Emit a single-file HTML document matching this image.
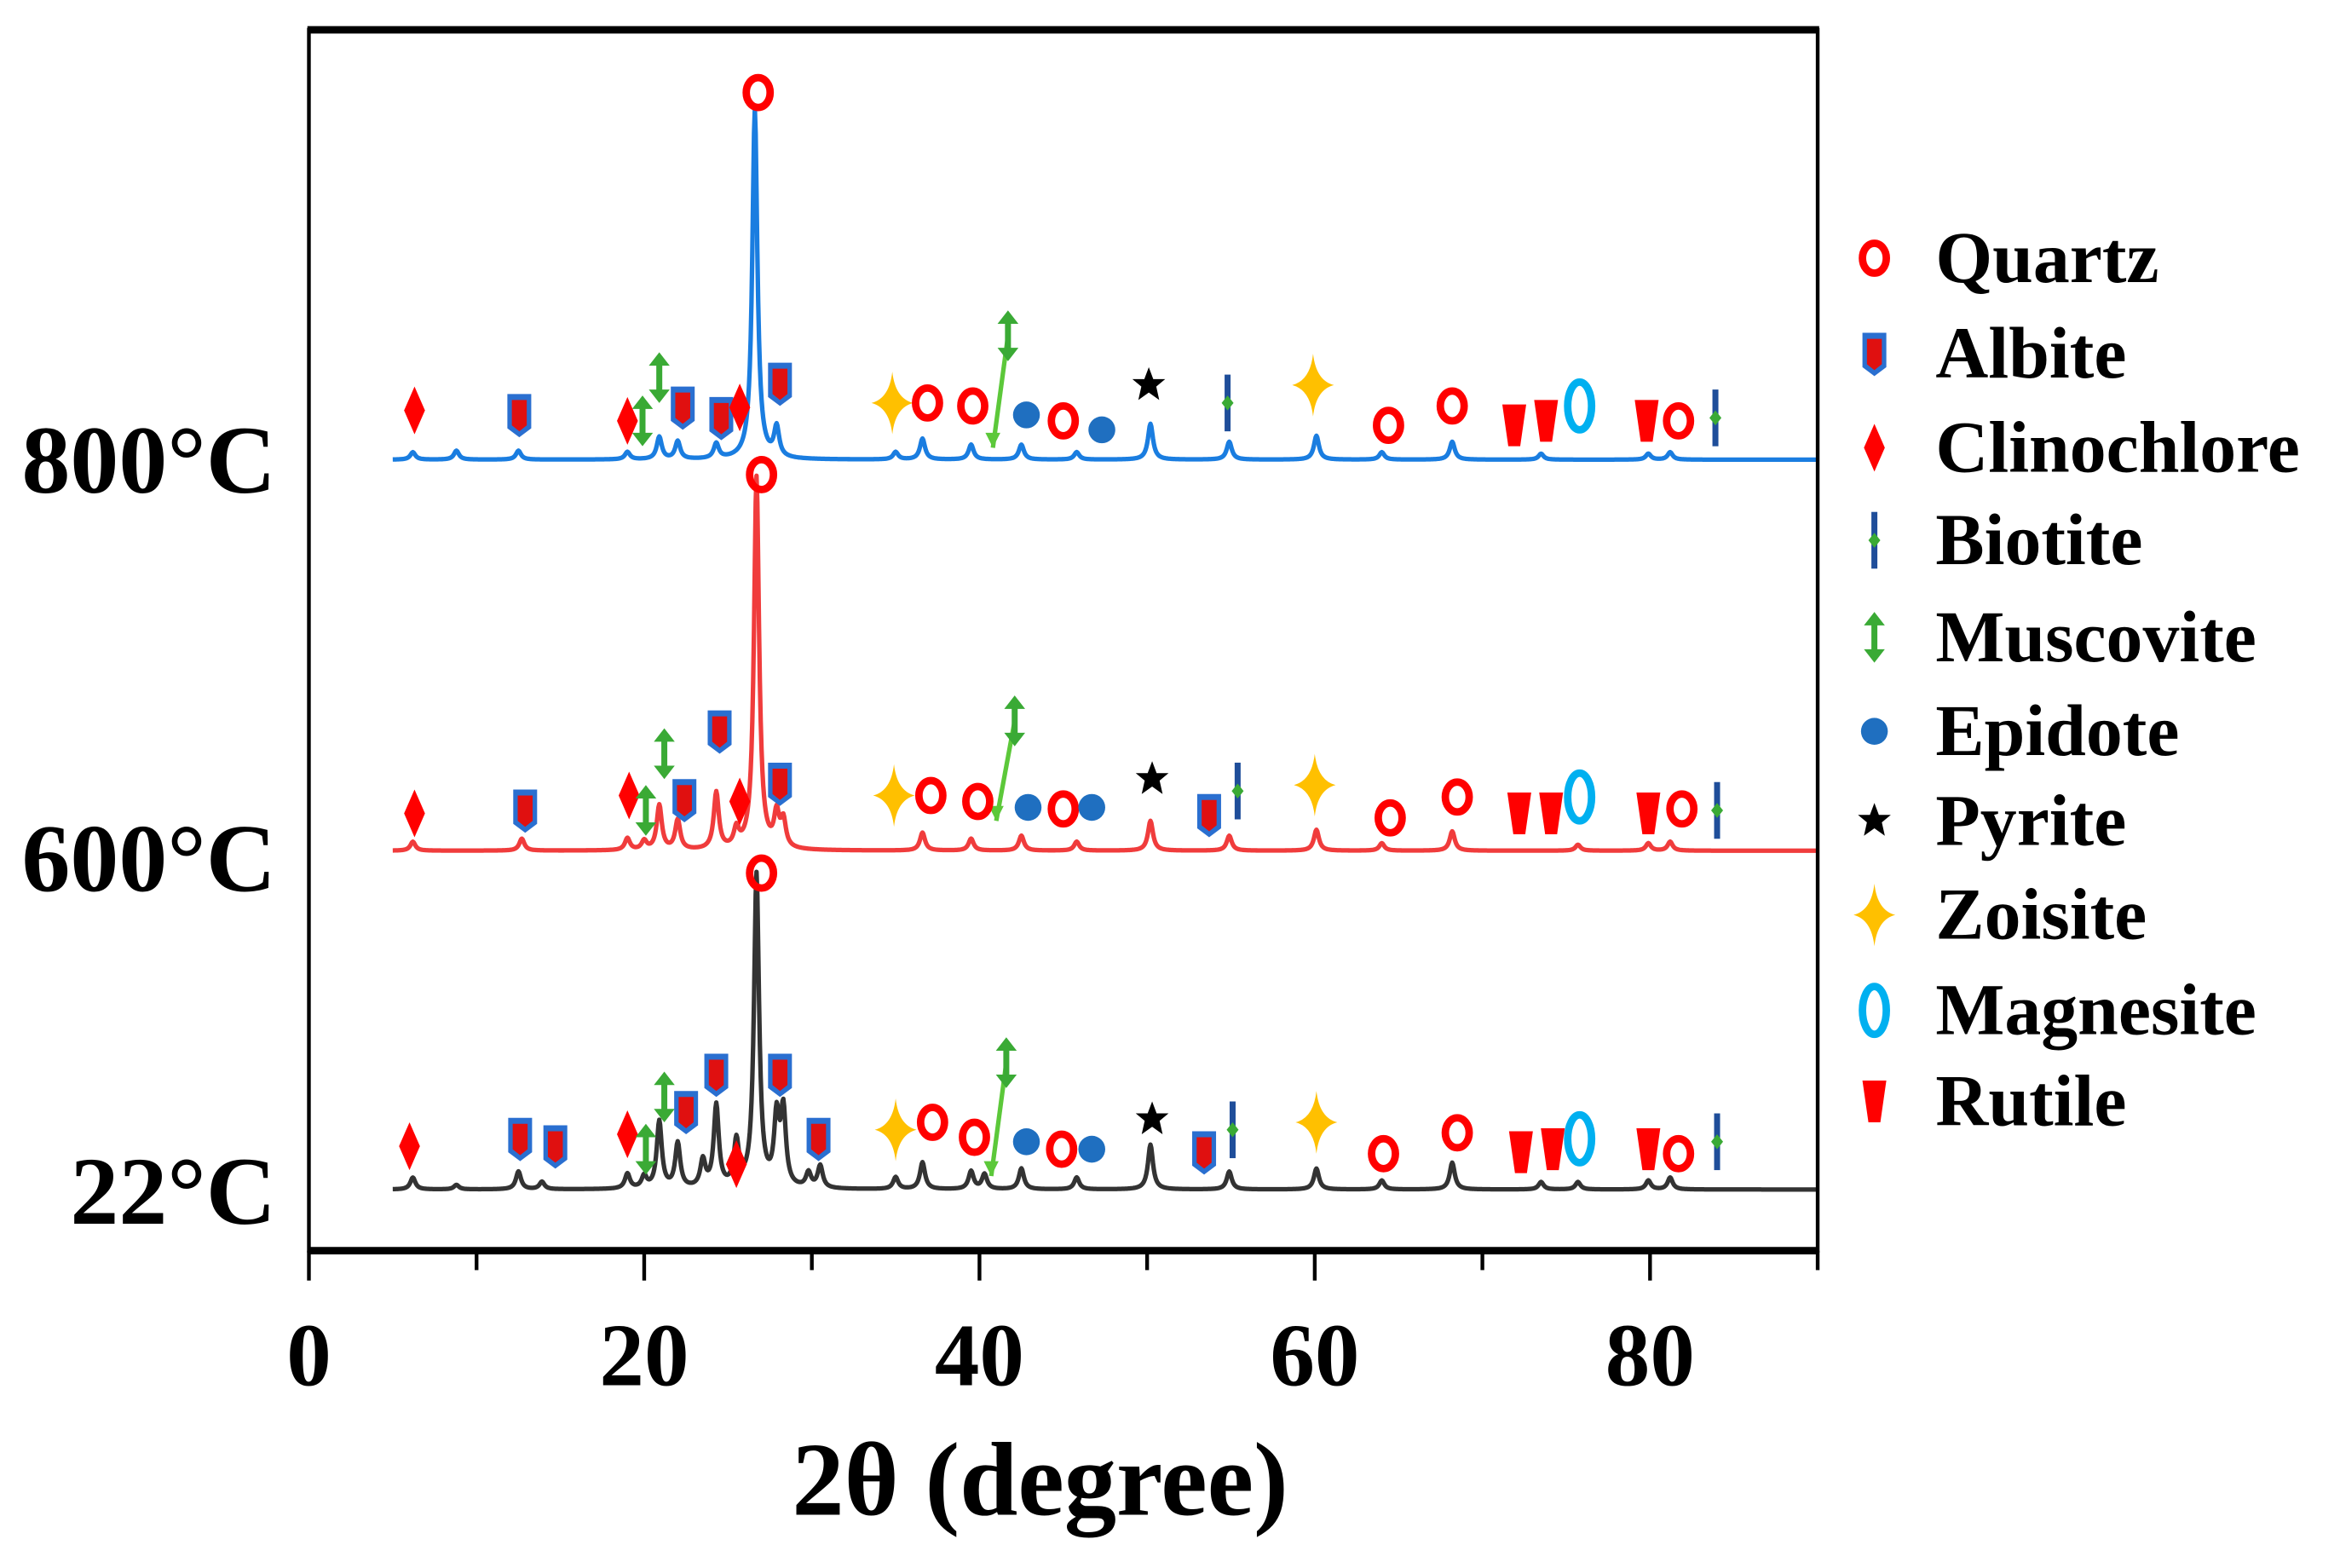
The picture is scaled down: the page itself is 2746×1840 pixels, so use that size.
<!DOCTYPE html>
<html><head><meta charset="utf-8"><style>
html,body{margin:0;padding:0;background:#fff;overflow:hidden}
svg{display:block}
text{font-family:"Liberation Serif",serif;font-weight:bold;fill:#000}
</style></head><body>
<svg id="chart" width="2746" height="1840" viewBox="0 0 1568 1050.6" preserveAspectRatio="none" xmlns="http://www.w3.org/2000/svg">
<g id="plot"></g>
<g id="axes"></g>
<g id="legend"></g>
</svg>
<script>
// ---- data ----
const xTicks = [0,10,20,30,40,50,60,70,80,90];
const xTickLabels = ["0","20","40","60","80"];
const seriesNames = ["22°C","600°C","800°C"];
const seriesOffsets = [41,268,530];
const seriesColors = ["#333333","#f03c3c","#1a7de0"];
const peaks22Angle = [6.2,8.8,12.5,13.9,19.0,20.0,20.9,22.0,23.5,24.3,25.5,26.7,27.9,28.3,29.8,30.5,35.0,36.6,39.5,40.3,42.5,45.8,50.2,54.9,60.1,64.0,68.2,73.5,75.7,79.9,81.2];
const peaks22Int   = [8,3,12,5,10,8,45,30,18,55,30,210,45,50,10,15,8,18,12,10,14,8,30,12,14,6,18,5,5,6,8];
const peaks600Angle = [6.2,12.7,19.0,20.0,20.9,22.0,24.3,25.5,26.7,27.9,28.3,36.6,39.5,42.5,45.8,50.2,54.9,60.1,64.0,68.2,75.7,79.9,81.2];
const peaks600Int   = [6,8,8,6,30,20,38,12,250,22,18,12,8,10,6,20,10,14,5,13,4,5,6];
const peaks800Angle = [6.2,8.8,12.5,19.0,20.9,22.0,24.3,26.6,27.9,35.0,36.6,39.5,42.5,45.8,50.2,54.9,60.1,64.0,68.2,73.5,79.9,81.2];
const peaks800Int   = [5,6,6,5,15,12,10,235,20,5,14,10,10,5,24,12,16,5,12,4,4,5];
// markers: [type, angle, height above baseline]
const markers22 = [["clino",6.0,29],["albite",12.6,34],["albite",14.7,29],["clino",19.0,37],["musc",20.1,27],["musc",21.2,62],["albite",22.5,52],["albite",24.3,77],["clino",25.5,17],["albite",28.1,77],["quartz",27.0,212],["albite",30.4,34],["zoisite",35.0,40],["quartz",37.2,45],["quartz",39.7,35],["epidote",42.8,32],["quartz",44.9,27],["epidote",46.7,27],["pyrite",50.3,47],["albite",53.4,25],["biotite",55.1,40],["zoisite",60.1,45],["quartz",64.1,24],["quartz",68.5,38],["rutile",72.3,25],["rutile",74.2,27],["magnesite",75.8,34],["rutile",79.9,27],["quartz",81.7,24],["biotite",84.0,32]];
const musc22 = [[41.6,85,40.7,9]];
const markers600 = [["clino",6.3,25],["albite",12.9,27],["clino",19.1,37],["musc",20.1,27],["musc",21.2,65],["albite",22.4,34],["albite",24.5,80],["clino",25.7,33],["albite",28.1,45],["quartz",27.0,252],["zoisite",34.9,37],["quartz",37.1,37],["quartz",39.9,33],["epidote",42.9,29],["quartz",45.0,28],["epidote",46.7,29],["pyrite",50.3,48],["albite",53.7,24],["biotite",55.4,40],["zoisite",60.0,44],["quartz",64.5,22],["quartz",68.5,36],["rutile",72.2,25],["rutile",74.1,25],["magnesite",75.8,36],["rutile",79.9,25],["quartz",81.9,28],["biotite",84.0,27]];
const musc600 = [[42.1,87,41.0,20]];
const markers800 = [["clino",6.3,33],["albite",12.55,30],["clino",19.0,26],["musc",19.9,26],["musc",20.9,55],["albite",22.3,35],["albite",24.6,28],["clino",25.7,35],["albite",28.1,51],["quartz",26.8,246],["zoisite",34.8,38],["quartz",36.9,38],["quartz",39.6,36],["epidote",42.8,30],["quartz",45.0,26],["epidote",47.3,20],["pyrite",50.1,50],["biotite",54.8,38],["zoisite",59.9,50],["quartz",64.4,23],["quartz",68.2,36],["rutile",71.9,23],["rutile",73.8,26],["magnesite",75.8,36],["rutile",79.8,26],["quartz",81.7,26],["biotite",83.9,28]];
const musc800 = [[41.7,83,40.8,8]];
const legendNames = ["Quartz","Albite","Clinochlore","Biotite","Muscovite","Epidote","Pyrite","Zoisite","Magnesite","Rutile"];
const legendTypes = ["quartz","albite","clino","biotite","musc","epidote","pyrite","zoisite","magnesite","rutile"];

// ---- axes functions ----
const X0=207, X1=1218, Y0=20, Y1=838;
function xs(a){return X0+(a/90)*(X1-X0);}
function ys(v){return Y1-v;}
const NS="http://www.w3.org/2000/svg";
function mk(tag,attrs,parent){const e=document.createElementNS(NS,tag);for(const k in attrs)e.setAttribute(k,attrs[k]);parent.appendChild(e);return e;}
const plot=document.getElementById('plot'),axes=document.getElementById('axes'),legend=document.getElementById('legend');

function drawMarker(type,cx,cy,parent){
  const g=mk('g',{transform:`translate(${cx},${cy})`},parent);
  
  
  if(type==='quartz'){mk('ellipse',{cx:0,cy:0,rx:8,ry:10,fill:'none',stroke:'#ff0000','stroke-width':5},g);}
  else if(type==='albite'){mk('path',{d:'M-8,-14 L8,-14 L8,9 L0,15 L-8,9Z',fill:'#2a6fd0'},g);mk('path',{d:'M-5,-10 L5,-10 L5,7 L0,11 L-5,7Z',fill:'#e01010'},g);}
  else if(type==='clino'){mk('path',{d:'M0,-16 L7,0 L0,16 L-7,0Z',fill:'#ff0000'},g);}
  else if(type==='biotite'){mk('rect',{x:-2,y:-19,width:4,height:38,fill:'#1f4e9a'},g);mk('path',{d:'M0,-5 L4,0 L0,5 L-4,0Z',fill:'#3aaa35'},g);}
  else if(type==='musc'){mk('rect',{x:-2,y:-10,width:4,height:20,fill:'#3aaa35'},g);mk('path',{d:'M0,-17 L7,-8 L-7,-8Z M0,17 L7,8 L-7,8Z',fill:'#3aaa35'},g);}
  else if(type==='epidote'){mk('ellipse',{cx:0,cy:0,rx:9,ry:9,fill:'#1f6fc0'},g);}
  else if(type==='pyrite'){mk('path',{d:'M0,-12 L3,-4 L11,-4 L5,1 L7,10 L0,5 L-7,10 L-5,1 L-11,-4 L-3,-4Z',fill:'#000'},g);}
  else if(type==='zoisite'){mk('path',{d:'M0,-21 Q2,-3 14,0 Q2,3 0,21 Q-2,3 -14,0 Q-2,-3 0,-21Z',fill:'#ffc000'},g);}
  else if(type==='magnesite'){mk('ellipse',{cx:0,cy:0,rx:8,ry:16,fill:'none',stroke:'#00b0f0','stroke-width':5},g);}
  else if(type==='rutile'){mk('path',{d:'M-8,-14 L8,-14 L4,14 L-4,14Z',fill:'#ff0000'},g);}
  return g;
}

// ---- series ----
const peakAngles=[peaks22Angle,peaks600Angle,peaks800Angle];
const peakInts=[peaks22Int,peaks600Int,peaks800Int];
const markerSets=[markers22,markers600,markers800];
const muscSets=[musc22,musc600,musc800];
const w=0.18;
for(let s=0;s<3;s++){
  let d='';
  for(let a=5;a<=90.001;a+=0.05){
    let v=seriesOffsets[s];
    for(let i=0;i<peakAngles[s].length;i++){const dx=(a-peakAngles[s][i])/w;v+=peakInts[s][i]/(1+dx*dx);}
    d+=(d?'L':'M')+xs(a).toFixed(2)+','+ys(v).toFixed(2);
  }
  const p=mk('path',{d:d,fill:'none',stroke:seriesColors[s],'stroke-width':3,'stroke-linejoin':'round'},plot);
  
  
  for(const m of muscSets[s]){
    const l=mk('line',{x1:xs(m[0]),y1:ys(seriesOffsets[s]+m[1]),x2:xs(m[2]),y2:ys(seriesOffsets[s]+m[3]),stroke:'#5cc83a','stroke-width':3},plot);
    
    
    mk('path',{d:`M${xs(m[2])},${ys(seriesOffsets[s]+m[3])} l-5,-10 l10,0z`,fill:'#5cc83a'},plot);
    drawMarker('musc',xs(m[0]),ys(seriesOffsets[s]+m[1]),plot);
  }
  for(const m of markerSets[s]) drawMarker(m[0],xs(m[1]),ys(seriesOffsets[s]+m[2]),plot);
  const t=mk('text',{x:185,y:[820,597,330][s],'font-size':65,'text-anchor':'end'},axes);
  t.textContent=seriesNames[s];
  
  
}

// ---- frame and ticks ----
const fr=mk('rect',{x:X0,y:Y0,width:X1-X0,height:Y1-Y0,fill:'none',stroke:'#000','stroke-width':2.5},axes);


mk('line',{x1:X0-1,y1:Y0,x2:X1+1,y2:Y0,stroke:'#000','stroke-width':5},axes);
mk('line',{x1:X0-1,y1:Y1,x2:X1+1,y2:Y1,stroke:'#000','stroke-width':5},axes);
for(let i=0;i<xTicks.length;i++){
  const major=xTicks[i]%20===0;
  mk('line',{x1:xs(xTicks[i]),y1:Y1,x2:xs(xTicks[i]),y2:Y1+(major?20:13),stroke:'#000','stroke-width':2.5},axes);
}
for(let i=0;i<xTickLabels.length;i++){
  const t=mk('text',{x:xs(+xTickLabels[i]),y:928,'font-size':60,'text-anchor':'middle'},axes);
  t.textContent=xTickLabels[i];
  
  
}
const xt=mk('text',{x:697,y:1015,'font-size':70,'text-anchor':'middle'},axes);
xt.textContent='2θ (degree)';



// ---- legend ----
const legY=[173,237,300,362,427,490,550,613,677,738];
for(let i=0;i<legendNames.length;i++){
  const g=mk('g',{},legend);
  
  
  drawMarker(legendTypes[i],1256,legY[i],g);
  const t=mk('text',{x:1297,y:legY[i]+16,'font-size':49},g);
  t.textContent=legendNames[i];
}
</script>
</body></html>
